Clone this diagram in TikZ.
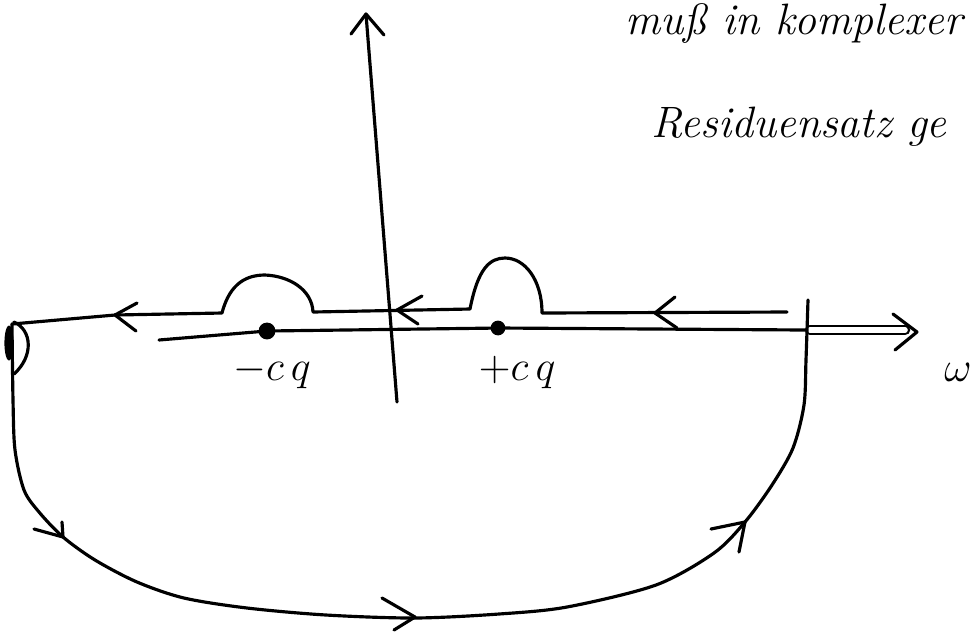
\documentclass[tikz,border=0pt]{standalone}
\begin{document}
\begin{tikzpicture}[x=0.01cm, y=-0.01cm, line width=0.9pt, line cap=round, line join=round,
  every node/.style={font=\fontsize{13}{15}\selectfont},
  hand/.style={font=\fontsize{12.5}{15}\selectfont\itshape, anchor=base west, inner sep=0pt}]
\useasboundingbox (0,0) rectangle (972,632);
\clip (0,0) rectangle (972,632);
% notes
\node[hand] (muss) at (624,34) {muß in komplexer};
\node[hand] (res) at (650,137) {Residuensatz ge};
% axes
\draw (397,402) -- (366,14);
\draw (351,34) -- (366,14) -- (384,35);
\draw (159,340) -- (267,331) -- (500,328) -- (805,330);
\draw[double distance=1.6pt, line width=0.7pt] (810,330) -- (905,330);
\draw (893,314) -- (917,332) -- (895,350);
\node (w) at (958,372) {$\omega$};
% poles
\fill (267,331) circle (2.4pt);
\fill (498,328) circle (2.1pt);
\node (mcq) at (272,372) {$-c\,q$};
\node (pcq) at (517,372) {$+c\,q$};
% contour, upper part with bumps
\draw (12,324) -- (115,315) -- (222,313)
  .. controls (230,282) and (248,275) .. (265,275)
  .. controls (290,276) and (312,290) .. (313,312)
  -- (470,309)
  .. controls (478,268) and (490,258) .. (505,258)
  .. controls (525,258) and (542,280) .. (542,313)
  -- (787,312);
% contour, big arc
\draw plot[smooth] coordinates {(808,300) (806,360) (804,405) (793,448) (772,485)
  (745,522) (714,553) (656,585) (567,607) (499,614) (415,618) (326,615) (247,608)
  (184,598) (137,582) (95,560) (63,537) (39,512) (24,490) (15,450) (13,400) (12,324)};
% small loop at the left end
\fill (9,343) ellipse (1.3pt and 5pt);
\draw (14,322) .. controls (32,330) and (34,356) .. (14,374);
% direction marks
\draw (137,303) -- (115,315) -- (136,331);
\draw (422,296) -- (397,310) -- (418,324);
\draw (675,297) -- (655,313) -- (677,328);
\draw (34,529) -- (63,537) -- (62,522);
\draw (382,598) -- (415,617) -- (394,630);
\draw (711,529) -- (745,522) -- (739,552);
\end{tikzpicture}
\end{document}
